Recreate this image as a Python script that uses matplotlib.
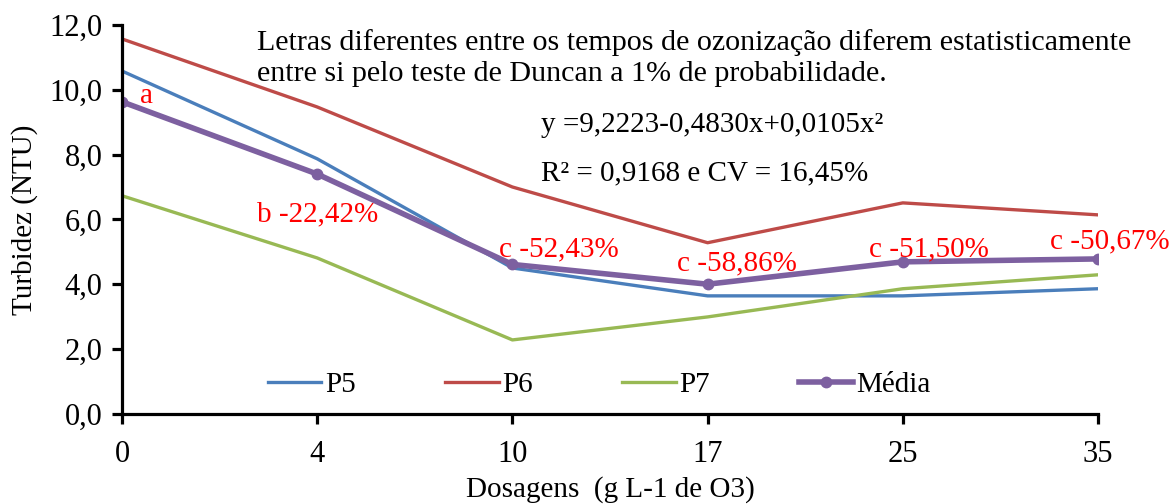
import matplotlib
matplotlib.use("Agg")
import matplotlib.pyplot as plt
from matplotlib.ticker import FuncFormatter

plt.rcParams['font.family'] = ['Liberation Serif', 'DejaVu Serif']

doses = ["0", "4", "10", "17", "25", "35"]
p5 = [10.58, 7.87, 4.50, 3.64, 3.64, 3.86]
p6 = [11.57, 9.47, 7.00, 5.28, 6.51, 6.14]
p7 = [6.73, 4.81, 2.28, 2.99, 3.86, 4.29]
media = [9.63, 7.40, 4.61, 4.00, 4.69, 4.78]
labels_media = ["a", "b -22,42%", "c -52,43%", "c -58,86%", "c -51,50%", "c -50,67%"]

FS = 21
W, H = 1172, 504
fig = plt.figure(figsize=(W / 100, H / 100), dpi=100)
ax_h = 413.8 - 25
ax = fig.add_axes([122 / W, 1 - 413.8 / H, (1098 - 122) / W, ax_h / H])
x = list(range(len(doses)))

ax.plot(x, p5, color='#4A7EBB', lw=2.4, label='P5')
ax.plot(x, p6, color='#BE4B48', lw=2.4, label='P6')
ax.plot(x, p7, color='#98B954', lw=2.4, label='P7')
ax.plot(x, media, color='#7D60A0', lw=4.0, marker='o', ms=7.5, label='Média')

ax.set_xlim(0, 5)
ax.set_ylim(0, 12)
ax.set_yticks([0, 2, 4, 6, 8, 10, 12])
ax.set_xticks(x)
ax.set_xticklabels(doses)
ax.yaxis.set_major_formatter(FuncFormatter(lambda v, p: f"{v:.1f}".replace('.', ',')))
for s in ['top', 'right']:
    ax.spines[s].set_visible(False)
for s in ['left', 'bottom']:
    ax.spines[s].set_linewidth(2.3)
ax.tick_params(axis='both', which='major', labelsize=22, width=2.3, length=7, direction='out')
ax.tick_params(axis='x', pad=12)
ax.tick_params(axis='y', pad=7)

ax.set_ylabel('Turbidez (NTU)', fontsize=FS, labelpad=8)
ax.set_xlabel('Dosagens  (g L-1 de O3)', fontsize=FS)
ax.xaxis.label.set_va('center')
ax.xaxis.set_label_coords(0.5, -(490 - 413.8) / ax_h)

# annotations for mean (offset in index units / value units, baseline aligned)
offsets = [(0.09, -0.05, 'left'), (0.0, -1.45, 'center'), (0.24, 0.26, 'center'),
           (0.148, 0.44, 'center'), (0.134, 0.18, 'center'), (0.059, 0.33, 'center')]
for i, (lab, (dx, dy, ha)) in enumerate(zip(labels_media, offsets)):
    ax.text(x[i] + dx, media[i] + dy, lab, color='red', fontsize=FS, ha=ha,
            va='baseline', clip_on=False)

fig.text(257 / W, 1 - 50 / H,
         'Letras diferentes entre os tempos de ozonização diferem estatisticamente',
         fontsize=21.6, ha='left', va='baseline')
fig.text(257 / W, 1 - 81 / H,
         'entre si pelo teste de Duncan a 1% de probabilidade.',
         fontsize=21.6, ha='left', va='baseline')
fig.text(541 / W, 1 - 132 / H, 'y =9,2223-0,4830x+0,0105x²', fontsize=FS,
         ha='left', va='baseline')
fig.text(541 / W, 1 - 180 / H, 'R² = 0,9168 e CV = 16,45%', fontsize=FS,
         ha='left', va='baseline')

leg = ax.legend(loc='center left', bbox_to_anchor=(268 / W, 1 - 385 / H),
                bbox_transform=fig.transFigure, ncol=4, frameon=False,
                fontsize=FS, handlelength=1.83, handletextpad=0.12, columnspacing=3.07,
                borderaxespad=0, borderpad=0)

fig.savefig('out.png', dpi=100)
